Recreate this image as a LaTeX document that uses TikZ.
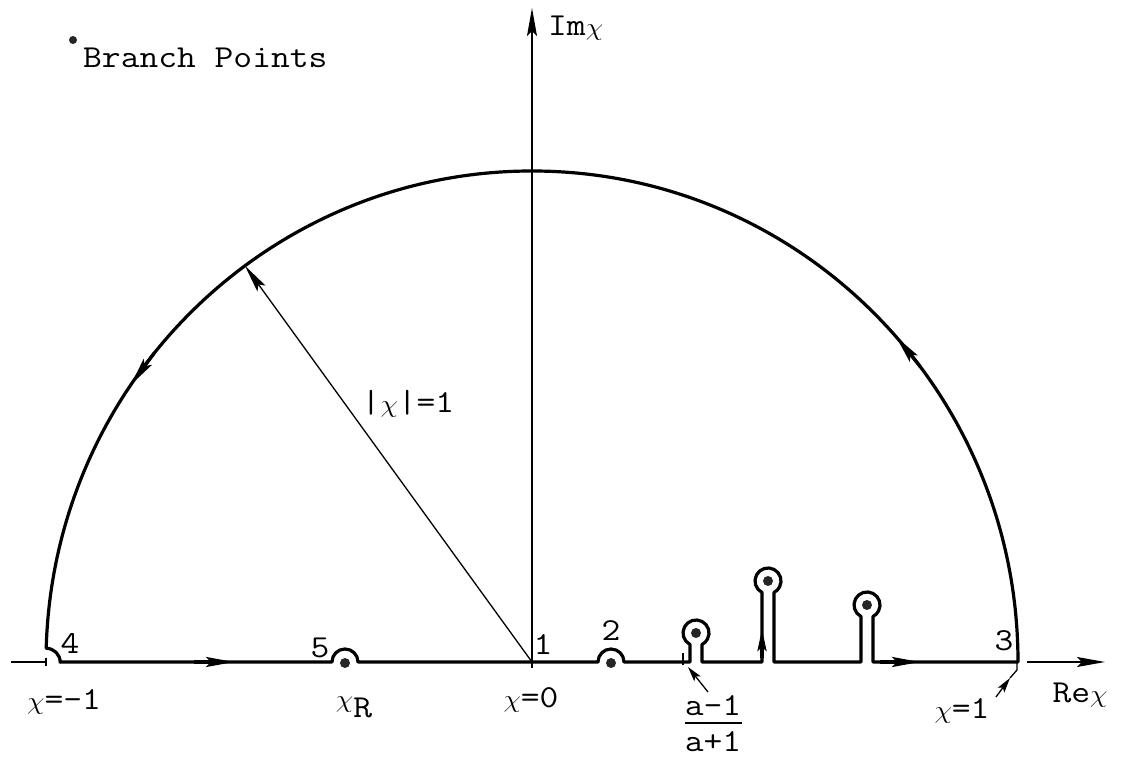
\documentclass[tikz,border=0pt]{standalone}
\usepackage{fontspec}
\usetikzlibrary{arrows.meta,calc}
\newcommand{\tw}[1]{\scalebox{1.14}[1]{#1}}
\tikzset{
  contour/.style={line width=3.2pt, line join=round, line cap=butt},
  thinline/.style={line width=1.3pt},
  arr/.style={-{Stealth[length=28pt,width=10pt,inset=5pt]}},
  karr/.style={-{Stealth[length=22pt,width=9pt,inset=4pt]}},
  sarr/.style={-{Stealth[length=15pt,width=8pt,inset=3pt]}},
  lbl/.style={inner sep=0pt, font=\fontsize{32}{38}\selectfont\ttfamily\addfontfeatures{FakeBold=1.2}},
  bp/.style={circle, fill=black!85, inner sep=0pt, minimum size=10pt},
}
\begin{document}
\begin{tikzpicture}[x=1pt,y=1pt]
\useasboundingbox (-532,-98) rectangle (590,662);
\coordinate (O) at (0,0);
% axes
\draw[thinline, arr] (0,-6) -- (0,654) coordinate (ytip);
\coordinate (xl) at (-521,0);
\coordinate (xm1) at (-486,0);
\draw[thinline] (xl) -- (xm1);
\draw[thinline] (-486,-4) -- (-486,4);
\coordinate (xr0) at (495,0);
\draw[thinline, arr] (xr0) -- (573,0) coordinate (xtip);
% contour
\draw[contour] (-472,0) -- (-200,0) arc[start angle=180,end angle=0,radius=13]
  -- (66,0) arc[start angle=180,end angle=0,radius=13]
  -- (158,0) -- (158,17.5) arc[start angle=242.4,end angle=-62.4,radius=13] -- (170,0)
  -- (230,0) -- (230,69.5) arc[start angle=242.4,end angle=-62.4,radius=13] -- (242,0)
  -- (329,0) -- (329,45.5) arc[start angle=242.4,end angle=-62.4,radius=13] -- (341,0)
  -- (486,0) arc[start angle=0,end angle=178.4,x radius=486,y radius=491]
  arc[start angle=90,end angle=0,radius=14] -- cycle;
% contour arrows
\draw[contour, arr] (-338,0) -- (-298,0);
\draw[contour, arr] (348,0) -- (388,0);
\draw[contour, karr] (230,4) -- (230,33);
\draw[contour, arr] (141:486 and 491) -- (145.6:486 and 491);
\draw[contour, arr] (37:486 and 491) -- (41.5:486 and 491);
% radius
\coordinate (R) at (126.2:486 and 491);
\draw[thinline, arr] (O) -- (R);
\node[lbl] (rl) at (-124,258) {\tw{|$\chi$|=1}};
% branch points
\node[bp] (b5) at (-187,-1) {};
\node[bp] (b2) at (79,-1) {};
\node[bp] (k1) at (164,29) {};
\node[bp] (k2) at (236,81) {};
\node[bp] (k3) at (335,57) {};
% legend
\node[bp, minimum size=8pt] (ld) at (-459,622) {};
\node[lbl, anchor=base west] (lt) at (-449,594) {\tw{Branch Points}};
% labels
\node[lbl, anchor=west] (im) at (16,634) {\tw{Im$\chi$}};
\node[lbl] (re) at (548,-33) {\tw{Re$\chi$}};
\node[lbl] (n4) at (-462,18) {\tw{4}};
\node[lbl] (n5) at (-212,14) {\tw{5}};
\node[lbl] (n1) at (11,17) {\tw{1}};
\node[lbl] (n2) at (79,31) {\tw{2}};
\node[lbl] (n3) at (472,21) {\tw{3}};
\node[lbl] (cm1) at (-468,-40) {\tw{$\chi$=-1}};
\node[lbl] (cr) at (-178,-45) {\tw{$\chi$\raisebox{-10pt}{R}}};
\node[lbl] (c0) at (-1,-38) {\tw{$\chi$=0}};
\node[lbl] (c1) at (430,-49) {\tw{$\chi$=1}};
\node[lbl] (fn) at (181,-44) {\tw{a-1}};
\node[lbl] (fd) at (181,-80) {\tw{a+1}};
\draw[line width=1.2pt] (153,-61) -- (210,-61);
% pointers
\draw[thinline] (151,-3) -- (151,9);
\coordinate (fp) at (156,-5);
\draw[thinline, sarr] (176,-30) -- (fp);
\coordinate (p1) at (478,-16);
\draw[thinline, sarr] (464,-35) -- (p1);
\draw[thinline] (p1) -- (485,-8) -- (485,0);
\end{tikzpicture}
\end{document}
